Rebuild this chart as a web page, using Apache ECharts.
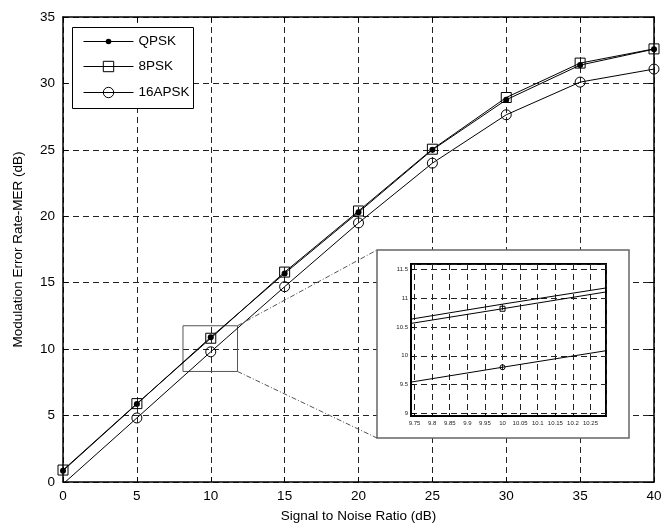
<!DOCTYPE html>
<html><head><meta charset="utf-8">
<script src="https://cdn.jsdelivr.net/npm/echarts@6/dist/echarts.min.js"></script>
<style>html,body{margin:0;padding:0;background:#fff}#c{width:665px;height:529px}</style>
</head><body><div id="c"></div>
<script>
// ---- data ----
const snr    = [0, 5, 10, 15, 20, 25, 30, 35, 40];
const qpsk   = [0.85, 5.87, 10.9, 15.7, 20.3, 25.0, 28.77, 31.38, 32.58];
const psk8   = [0.9, 5.9, 10.82, 15.8, 20.4, 25.05, 28.94, 31.53, 32.6];
const apsk16 = [-0.15, 4.82, 9.8, 14.7, 19.5, 24.0, 27.64, 30.1, 31.08];
const seriesNames = ['QPSK', '8PSK', '16APSK'];
const mainX = [0, 40, 5];      // min, max, interval
const mainY = [0, 35, 5];
const zoomX = [8.12, 11.81];   // zoomed region in main plot
const zoomY = [8.32, 11.76];
const insetX = [9.74, 10.294];
const insetY = [8.95, 11.6];

const F = 'Liberation Sans, Arial, Helvetica, sans-serif';
const pairs = arr => snr.map((x, i) => [x, arr[i]]);
const dash = { color: '#222', type: [6, 4], width: 1 };

function mainAxis(pos, rng, extra) {
  return Object.assign({
    gridIndex: 0, type: 'value', position: pos, min: rng[0], max: rng[1], interval: rng[2],
    axisLine: { show: true, onZero: false, lineStyle: { color: '#000', width: 1.5 } },
    axisTick: { show: true, inside: true, length: 5, lineStyle: { color: '#000' } },
    axisLabel: { show: false }, splitLine: { show: false }
  }, extra || {});
}

const legendText = { fontFamily: F, fontSize: 13.5, color: '#000', lineHeight: 14 };
const option = {
  animation: false,
  backgroundColor: '#fff',
  textStyle: { fontFamily: F },
  grid: [
    { left: 63, right: 11, top: 17, bottom: 47 },
    { left: 411, top: 264, width: 195, height: 152, show: true, z: 55,
      borderColor: '#000', borderWidth: 2, backgroundColor: 'rgba(0,0,0,0)' }
  ],
  legend: [
    { left: 83, top: 34.5, orient: 'vertical', padding: 0, itemWidth: 50, itemHeight: 7,
      selectedMode: false, z: 10, data: [seriesNames[0]],
      lineStyle: { width: 1 }, itemStyle: { borderWidth: 0 }, textStyle: legendText },
    { left: 83, top: 59.5, orient: 'vertical', padding: 0, itemWidth: 50, itemHeight: 13,
      itemGap: 12, selectedMode: false, z: 10, data: [seriesNames[1], seriesNames[2]],
      lineStyle: { width: 1 }, itemStyle: { borderWidth: 1 }, textStyle: legendText }
  ],
  xAxis: [
    mainAxis('bottom', mainX, {
      name: 'Signal to Noise Ratio (dB)', nameLocation: 'middle', nameGap: 27,
      nameTextStyle: { fontFamily: F, fontSize: 13.5, color: '#000' },
      axisLabel: { show: true, margin: 7, fontFamily: F, fontSize: 13.5, color: '#000' },
      splitLine: { show: true, lineStyle: dash }
    }),
    mainAxis('top', mainX),
    { gridIndex: 1, type: 'value', min: insetX[0], max: insetX[1], splitNumber: 11, z: 60,
      axisLine: { show: true, onZero: false, lineStyle: { color: '#000', width: 2 } },
      axisTick: { show: true, inside: true, length: 3, lineStyle: { color: '#000' } },
      axisLabel: { show: true, margin: 4, fontFamily: F, fontSize: 6, color: '#222', interval: 0,
        showMinLabel: false, showMaxLabel: false, hideOverlap: false },
      splitLine: { show: true, lineStyle: { color: '#222', type: [6, 4], width: 1 } } }
  ],
  yAxis: [
    mainAxis('left', mainY, {
      name: 'Modulation Error Rate-MER (dB)', nameLocation: 'middle', nameGap: 38,
      nameTextStyle: { fontFamily: F, fontSize: 13.5, color: '#000' },
      axisLabel: { show: true, margin: 8, fontFamily: F, fontSize: 13.5, color: '#000' },
      splitLine: { show: true, lineStyle: dash }
    }),
    mainAxis('right', mainY),
    { gridIndex: 1, type: 'value', min: insetY[0], max: insetY[1], splitNumber: 5, z: 60,
      axisLine: { show: true, onZero: false, lineStyle: { color: '#000', width: 2 } },
      axisTick: { show: true, inside: true, length: 3, lineStyle: { color: '#000' } },
      axisLabel: { show: true, margin: 3, fontFamily: F, fontSize: 6, color: '#222',
        showMinLabel: false, showMaxLabel: false },
      splitLine: { show: true, lineStyle: { color: '#222', type: [6, 4], width: 1 } } }
  ],
  series: [
    { type: 'line', name: seriesNames[0], xAxisIndex: 0, yAxisIndex: 0, data: pairs(qpsk),
      symbol: 'circle', symbolSize: 6, z: 4,
      itemStyle: { color: '#000' }, lineStyle: { color: '#000', width: 1 },
      markArea: { silent: true, z: 1,
        itemStyle: { color: 'rgba(0,0,0,0)', borderColor: '#555', borderWidth: 1 },
        data: [[{ coord: [zoomX[0], zoomY[1]] }, { coord: [zoomX[1], zoomY[0]] }]] } },
    { type: 'line', name: seriesNames[1], xAxisIndex: 0, yAxisIndex: 0, data: pairs(psk8),
      symbol: 'rect', symbolSize: 10, z: 3,
      itemStyle: { color: 'rgba(0,0,0,0)', borderColor: '#000', borderWidth: 1 },
      lineStyle: { color: '#000', width: 1 } },
    { type: 'line', name: seriesNames[2], xAxisIndex: 0, yAxisIndex: 0, data: pairs(apsk16),
      symbol: 'circle', symbolSize: 10, z: 3,
      itemStyle: { color: 'rgba(0,0,0,0)', borderColor: '#000', borderWidth: 1 },
      lineStyle: { color: '#000', width: 1 } },
    // inset
    { type: 'line', name: 'inset-' + seriesNames[0], xAxisIndex: 2, yAxisIndex: 2, data: pairs(qpsk),
      symbol: 'none', z: 61, lineStyle: { color: '#000', width: 1 } },
    { type: 'line', name: 'inset-' + seriesNames[1], xAxisIndex: 2, yAxisIndex: 2, data: pairs(psk8),
      symbol: 'rect', symbolSize: 5, z: 61,
      itemStyle: { color: 'rgba(0,0,0,0)', borderColor: '#000', borderWidth: 1 },
      lineStyle: { color: '#000', width: 1 } },
    { type: 'line', name: 'inset-' + seriesNames[2], xAxisIndex: 2, yAxisIndex: 2, data: pairs(apsk16),
      symbol: 'circle', symbolSize: 5, z: 61,
      itemStyle: { color: 'rgba(0,0,0,0)', borderColor: '#000', borderWidth: 1 },
      lineStyle: { color: '#000', width: 1 } }
  ]
};

const chart = echarts.init(document.getElementById('c'), null, { renderer: 'canvas' });
chart.setOption(option);

const box = { x: 377, y: 250, w: 252, h: 188 };
const tr = chart.convertToPixel({ gridIndex: 0 }, [zoomX[1], zoomY[1]]);
const br = chart.convertToPixel({ gridIndex: 0 }, [zoomX[1], zoomY[0]]);
chart.setOption({
  graphic: { elements: [
    { type: 'rect', z: 3, shape: { x: 72.5, y: 27.5, width: 121, height: 81 },
      style: { fill: '#fff', stroke: '#000', lineWidth: 1 } },
    { type: 'rect', z: 50, shape: { x: box.x, y: box.y, width: box.w, height: box.h },
      style: { fill: '#fff', stroke: '#666', lineWidth: 1.5 } },
    { type: 'line', z: 51, shape: { x1: tr[0], y1: tr[1], x2: box.x, y2: box.y },
      style: { stroke: '#555', lineWidth: 1, lineDash: [5, 2, 1, 2] } },
    { type: 'line', z: 51, shape: { x1: br[0], y1: br[1], x2: box.x, y2: box.y + box.h },
      style: { stroke: '#555', lineWidth: 1, lineDash: [5, 2, 1, 2] } }
  ] }
});
</script>
</body></html>
